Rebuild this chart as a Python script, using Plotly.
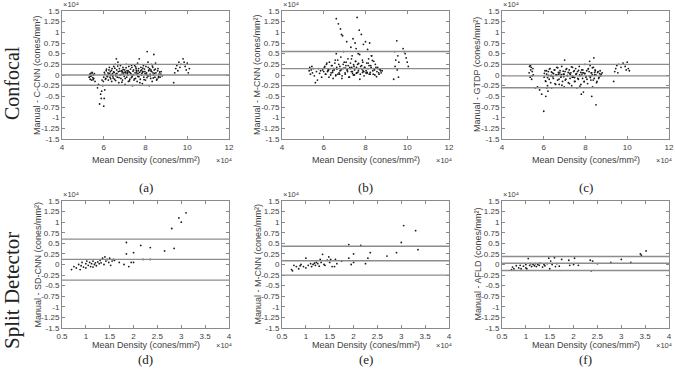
import plotly.graph_objects as go

# ---------------- data (units of 1e4 cones/mm^2) ----------------
a_x = [5.30,5.33,5.35,5.38,5.40,5.42,5.45,5.47,5.50,5.52,5.55,5.58,5.36,5.44,5.49,
       5.70,5.75,5.80,5.85,5.88,5.90,5.95,6.00,6.02,5.98,6.05,5.92,
       6.00,6.05,6.10,6.12,6.15,6.20,6.22,6.25,6.30,6.32,6.35,6.38,6.40,6.42,6.45,6.48,6.50,
       6.52,6.55,6.58,6.60,6.62,6.65,6.68,6.70,6.72,6.75,6.78,6.80,6.82,6.85,6.88,6.90,6.92,6.95,6.98,
       7.00,7.02,7.05,7.08,7.10,7.12,7.15,7.18,7.20,7.22,7.25,7.28,7.30,7.32,7.35,7.38,7.40,7.42,7.45,7.48,
       7.50,7.52,7.55,7.58,7.60,7.62,7.65,7.68,7.70,7.72,7.75,7.78,7.80,7.82,7.85,7.88,7.90,7.92,7.95,7.98,
       8.00,8.02,8.05,8.08,8.10,8.12,8.15,8.18,8.20,8.22,8.25,8.28,8.30,8.32,8.35,8.38,8.40,8.42,8.45,8.48,
       8.50,8.55,8.60,8.65,8.70,8.75,8.80,
       9.35,9.40,9.45,9.50,9.55,9.60,9.65,9.70,9.80,9.85,9.90,9.95,10.00,10.05,10.10,
       6.28,6.58,6.88,7.14,7.36,7.64,7.86,8.14,8.36,8.62,6.44,7.04,7.56,8.06,8.26]
a_y = [-0.05,0.02,-0.10,0.04,-0.02,-0.12,0.05,-0.06,0.00,-0.08,0.03,-0.15,-0.03,0.06,-0.11,
       -0.30,-0.22,-0.68,-0.45,-0.55,-0.38,-0.25,-0.73,-0.55,-0.15,-0.35,-0.12,
       -0.05,0.02,-0.08,0.10,-0.02,0.05,-0.12,0.12,-0.05,0.08,0.00,-0.15,0.15,0.03,-0.07,0.20,0.06,
       -0.10,0.25,0.02,0.38,0.12,-0.05,0.30,0.08,-0.18,0.15,0.00,0.22,-0.08,0.10,0.05,-0.12,0.18,0.02,-0.03,
       0.12,-0.22,0.05,0.25,-0.05,0.10,0.00,-0.15,0.20,0.07,-0.10,0.14,0.03,-0.06,0.18,-0.25,0.09,0.01,-0.12,0.22,
       0.05,-0.08,0.15,0.02,-0.15,0.28,0.10,-0.04,0.38,0.06,-0.10,0.18,0.00,0.12,-0.20,0.08,0.22,-0.05,0.14,0.03,
       -0.12,0.20,0.05,0.55,-0.02,0.30,0.10,-0.25,0.15,0.02,-0.08,0.25,0.08,-0.15,0.18,0.00,0.48,0.12,-0.05,0.28,
       0.05,-0.10,0.15,0.02,-0.05,0.08,-0.02,
       -0.18,0.05,0.15,0.22,0.10,0.30,0.18,0.25,0.38,0.30,0.20,0.12,0.28,0.05,0.15,
       0.04,-0.02,0.09,0.06,-0.04,0.04,0.07,-0.02,0.05,-0.06,-0.02,0.07,0.11,0.01,0.12]
a_lines = [0.25, 0.0, -0.24]

# extra images in the dense central band (shared mean-density positions)
band_x = [6.03,6.08,6.13,6.18,6.23,6.27,6.33,6.37,6.43,6.47,6.53,6.57,6.63,6.67,6.73,6.77,6.83,6.87,6.93,6.97,
          7.03,7.07,7.13,7.17,7.23,7.27,7.33,7.37,7.43,7.47,7.53,7.57,7.63,7.67,7.73,7.77,7.83,7.87,7.93,7.97,
          8.03,8.07,8.13,8.17,8.23,8.27,8.33,8.37,8.43,8.47,8.53,8.58,8.63,8.68,8.73]
a_band_y = [0.06,-0.10,0.14,-0.04,0.02,0.18,-0.09,0.11,-0.02,0.07,0.16,-0.13,0.04,0.21,-0.06,0.09,0.01,-0.17,0.13,0.06,
            -0.08,0.17,0.03,0.10,-0.14,0.05,0.23,-0.01,0.12,-0.09,0.19,0.07,-0.03,0.15,-0.18,0.10,0.04,0.16,-0.11,0.08,
            0.02,-0.06,0.18,0.12,-0.02,0.09,0.21,-0.07,0.04,0.14,-0.12,0.10,-0.03,0.07,0.02]

b_x = [6.60,6.70,6.80,6.85,6.90,7.60,7.70,7.80,7.10,7.40,7.50,7.90,8.00,8.20,7.30,7.55,8.10,6.95,7.65,8.30,6.60,
       5.30,5.33,5.36,5.40,5.43,5.46,5.50,5.55,5.60,5.65,5.70,5.75,5.80,5.85,5.90,5.95,
       6.00,6.05,6.10,6.15,6.20,6.25,6.30,6.35,6.40,6.45,6.50,6.55,6.62,6.68,6.72,6.78,6.82,6.88,6.92,6.98,
       7.02,7.06,7.12,7.16,7.20,7.25,7.28,7.32,7.36,7.42,7.45,7.48,7.52,7.58,7.62,7.68,7.72,7.75,7.82,7.85,7.88,7.95,
       8.02,8.06,8.12,8.15,8.22,8.25,8.28,8.35,8.40,8.45,8.50,8.55,8.60,8.65,8.70,8.75,8.80,
       9.35,9.40,9.42,9.45,9.50,9.52,9.55,9.60,9.58,9.80,9.90,9.95,10.00,10.05,9.85,
       6.42,6.76,7.04,7.38,7.66,7.92,8.18,8.42,6.22,7.14,7.56,8.08,6.58,7.34,7.86]
b_y = [1.32,1.20,1.08,0.95,0.92,1.35,1.05,0.95,0.78,0.85,0.75,0.72,0.78,0.75,0.65,0.62,0.60,0.55,0.50,0.45,0.50,
       0.10,0.18,0.02,0.12,0.20,0.05,0.15,-0.02,-0.18,0.08,-0.12,0.15,0.04,0.10,-0.05,0.12,
       0.08,0.20,0.02,0.28,0.10,-0.05,0.15,0.05,0.22,-0.08,0.12,0.35,0.18,0.02,0.25,0.10,0.42,-0.02,0.15,0.30,
       0.05,0.22,0.12,0.38,-0.05,0.18,0.28,0.08,0.45,0.00,0.20,0.12,0.32,0.05,0.25,0.15,0.48,0.02,0.22,0.35,0.10,0.18,
       0.05,0.28,0.15,0.38,0.02,0.22,0.45,0.10,0.32,0.00,0.18,0.08,0.15,0.02,0.12,0.05,0.10,
       -0.10,0.55,0.20,0.35,0.80,0.12,0.45,0.30,-0.05,0.62,0.50,0.40,0.30,0.20,0.55,
       0.06,0.02,0.16,0.04,0.10,0.08,0.02,0.14,0.12,0.08,0.04,0.06,0.00,0.18,0.06]
b_band_y = [0.18,0.02,0.25,0.08,0.12,0.30,0.00,0.22,0.10,0.15,0.28,-0.02,0.14,0.35,0.05,0.20,0.12,-0.08,0.25,0.16,
            0.02,0.30,0.12,0.22,-0.05,0.15,0.38,0.08,0.24,0.00,0.32,0.18,0.06,0.27,-0.10,0.20,0.14,0.30,-0.02,0.18,
            0.10,0.04,0.28,0.22,0.06,0.18,0.34,0.02,0.12,0.25,-0.04,0.18,0.05,0.14,0.10]
b_lines = [0.55, 0.15, -0.25]

c_x = [5.30,5.32,5.35,5.38,5.40,5.42,5.45,5.48,5.50,5.36,5.44,
       6.00,5.60,5.70,5.80,5.90,6.10,6.20,6.15,7.80,7.90,8.50,8.30,8.40,7.00,8.20,
       6.02,6.06,6.10,6.14,6.18,6.22,6.26,6.30,6.34,6.38,6.42,6.46,6.50,6.54,6.58,6.62,6.66,6.70,6.74,6.78,
       6.82,6.86,6.90,6.94,6.98,7.02,7.06,7.10,7.14,7.18,7.22,7.26,7.30,7.34,7.38,7.42,7.46,7.50,7.54,7.58,
       7.62,7.66,7.70,7.74,7.78,7.82,7.86,7.90,7.94,7.98,8.02,8.06,8.10,8.14,8.18,8.22,8.26,8.30,8.34,8.38,
       8.42,8.46,8.50,8.55,8.60,8.65,8.70,8.75,8.80,
       9.35,9.40,9.45,9.50,9.55,9.60,9.70,9.80,9.90,9.95,10.00,10.05,10.10,
       6.72,6.96,7.24,7.48,7.72,7.96,8.24,8.44,6.36,6.84,7.36,7.84,8.32]
c_y = [0.05,0.20,-0.05,0.12,0.18,-0.10,0.08,0.15,0.00,0.22,-0.02,
       -0.85,-0.30,-0.28,-0.35,-0.45,-0.50,-0.38,-0.30,-0.45,-0.40,-0.70,-0.50,0.40,0.35,0.32,
       -0.05,0.10,-0.15,0.02,-0.25,0.08,-0.10,0.15,-0.02,-0.30,0.05,-0.08,0.12,-0.20,0.00,0.18,-0.12,0.06,-0.22,0.10,
       -0.05,0.20,-0.15,0.02,-0.28,0.08,-0.10,0.15,-0.02,-0.18,0.12,-0.08,0.05,-0.25,0.18,-0.05,0.10,-0.15,0.02,-0.30,
       0.08,-0.10,0.20,-0.02,-0.22,0.12,-0.08,0.05,-0.15,0.25,-0.05,0.10,-0.20,0.15,-0.02,0.22,-0.12,0.05,-0.28,0.18,
       -0.08,0.12,0.00,-0.15,0.08,-0.05,0.10,0.02,0.05,
       -0.15,0.08,0.15,0.22,0.05,0.25,0.18,0.28,0.20,0.12,0.30,0.15,0.10,
       0.02,-0.04,0.04,-0.06,0.00,0.03,-0.03,0.06,-0.01,0.01,-0.02,0.05,0.00]
c_band_y = [0.04,-0.14,0.10,-0.06,-0.01,0.14,-0.18,0.07,-0.04,0.03,0.12,-0.22,0.00,0.17,-0.10,0.05,-0.03,-0.24,0.09,0.02,
            -0.12,0.13,-0.01,0.06,-0.20,0.01,0.19,-0.05,0.08,-0.15,0.15,0.03,-0.08,0.11,-0.26,0.06,0.00,0.12,-0.16,0.04,
            -0.02,-0.10,0.14,0.08,-0.06,0.05,0.17,-0.12,0.00,0.10,-0.18,0.06,-0.08,0.03,-0.02]
c_lines = [0.25, -0.02, -0.30]

d_x = [0.70,0.75,0.80,0.85,0.88,0.90,0.95,1.00,1.00,1.05,1.08,1.10,1.12,1.15,1.18,1.20,1.22,1.25,1.28,1.30,
       1.32,1.35,1.38,1.40,1.42,1.45,1.48,1.50,1.52,1.55,1.58,0.92,1.02,1.15,
       1.60,1.70,1.80,1.85,1.85,1.90,2.00,2.00,2.15,2.20,2.35,2.35,2.65,2.85,2.80,2.95,3.00,3.10,1.95]
d_y = [-0.12,-0.05,-0.08,0.00,-0.12,-0.03,-0.06,0.02,-0.08,-0.02,0.05,-0.05,0.02,0.08,0.00,0.04,-0.03,0.06,0.02,0.10,
       0.04,0.15,0.00,0.18,0.08,0.12,0.05,0.15,-0.02,0.08,0.12,0.05,0.08,-0.06,
       0.10,0.05,0.00,0.52,0.25,-0.05,0.28,0.05,0.45,0.12,0.40,0.12,0.32,0.38,0.85,1.10,1.00,1.22,0.05]
d_lines = [0.60, 0.12, -0.37]

e_x = [0.70,0.72,0.75,0.80,0.85,0.88,0.90,0.95,1.00,1.00,1.05,1.10,1.12,1.15,1.18,1.20,1.22,1.25,1.28,1.30,
       1.32,1.35,1.38,1.40,1.45,1.48,1.50,1.52,1.55,1.60,1.62,1.65,1.75,1.90,1.90,1.95,2.00,2.00,2.15,2.25,
       2.30,2.35,2.70,2.90,3.00,3.05,3.30,3.35]
e_y = [-0.12,-0.15,-0.02,-0.05,-0.10,-0.03,0.00,-0.05,0.15,-0.08,-0.02,0.02,-0.05,0.00,0.03,-0.02,0.05,0.02,-0.04,0.12,
       0.05,0.24,0.00,-0.02,0.10,0.18,0.05,0.12,-0.05,-0.05,0.12,0.02,0.08,0.47,0.15,0.00,0.25,0.05,0.45,0.02,
       0.15,0.28,0.20,0.28,0.52,0.92,0.80,0.35]
e_lines = [0.43, 0.09, -0.25]

f_x = [0.70,0.72,0.75,0.80,0.85,0.88,0.90,0.95,1.00,1.00,1.02,1.05,1.08,1.10,1.12,1.15,1.18,1.20,1.22,1.25,
       1.28,1.30,1.35,1.38,1.40,1.45,1.48,1.50,1.52,1.55,1.60,1.62,1.65,1.70,1.75,1.90,1.92,2.00,2.02,2.10,
       2.35,2.37,2.40,2.50,2.78,3.00,3.20,3.40,3.42,3.52]
f_y = [-0.12,-0.06,-0.10,-0.03,-0.08,-0.02,-0.10,-0.04,-0.08,0.00,-0.10,0.14,-0.02,0.02,-0.05,0.00,-0.03,0.02,-0.05,0.00,
       -0.02,0.03,-0.06,0.00,-0.03,0.02,0.15,-0.10,0.08,0.00,0.16,-0.05,0.02,-0.04,0.12,0.10,-0.02,0.00,0.15,-0.02,
       0.10,-0.15,0.08,0.02,0.05,0.12,0.05,0.25,0.22,0.32]
f_lines = [0.19, 0.03, -0.14]

x_title = "Mean Density (cones/mm\u00b2)"
y_titles = ["Manual - C-CNN (cones/mm\u00b2)", "Manual - M-CNN (cones/mm\u00b2)",
            "Manual - GTDP (cones/mm\u00b2)", "Manual - SD-CNN (cones/mm\u00b2)",
            "Manual - M-CNN (cones/mm\u00b2)", "Manual - AFLD (cones/mm\u00b2)"]
multiplier = "\u00d710\u2074"
panel_labels = ["(a)", "(b)", "(c)", "(d)", "(e)", "(f)"]
row_labels = ["Confocal", "Split Detector"]

y_ticks = [1.5,1.25,1,0.75,0.5,0.25,0,-0.25,-0.5,-0.75,-1,-1.25,-1.5]
y_ticktext = ["1.5","1.25","1","0.75","0.5","0.25","0","-0.25","-0.5","-0.75","-1","-1.25","-1.5"]
x_ticks_top = [4,6,8,10,12]
x_ticks_bot = [0.5,1,1.5,2,2.5,3,3.5,4]
x_ticktext_bot = ["0.5","1","1.5","2","2.5","3","3.5","4"]

# ---------------- layout geometry ----------------
W, H = 675, 373
cols = [(62, 229), (282, 449), (502, 669)]
rows = [(11, 139), (201, 328)]
title_off = [21, 17]      # px below axis for x title
mult_off = [21, 17]       # px below axis for x10^4 multiplier
label_y = [187, 359]      # panel label centre

panels = [(a_x + band_x, a_y + a_band_y, a_lines), (b_x + band_x, b_y + b_band_y, b_lines),
          (c_x + band_x, c_y + c_band_y, c_lines),
          (d_x, d_y, d_lines), (e_x, e_y, e_lines), (f_x, f_y, f_lines)]

fig = go.Figure()
AX = "#8a8a8a"
TXT = "#404040"
SANS = "Liberation Sans, Arial, sans-serif"
SERIF = "Liberation Serif, Times New Roman, serif"
tickfont = dict(family=SANS, size=8, color=TXT)
annotations = []

def px2x(v):
    return v / W

def px2y(v):
    return 1 - v / H

for i, (px, py, lines) in enumerate(panels):
    r, c = divmod(i, 3)
    n = i + 1
    xa = "x" if n == 1 else f"x{n}"
    ya = "y" if n == 1 else f"y{n}"
    x0, x1 = cols[c]
    yt, yb = rows[r]
    top = r == 0
    xr = [4, 12] if top else [0.5, 4]
    fig.add_trace(go.Scatter(x=px, y=py, mode="markers", xaxis=xa, yaxis=ya,
                             marker=dict(size=1.8, color="#1a1a1a"), showlegend=False,
                             hoverinfo="skip"))
    for v in lines:
        fig.add_trace(go.Scatter(x=xr, y=[v, v], mode="lines", xaxis=xa, yaxis=ya,
                                 line=dict(color="#8c8c8c", width=1.4), showlegend=False,
                                 hoverinfo="skip"))
    xkey = "xaxis" if n == 1 else f"xaxis{n}"
    ykey = "yaxis" if n == 1 else f"yaxis{n}"
    fig.layout[xkey] = dict(domain=[px2x(x0), px2x(x1)], range=xr, anchor=ya, showgrid=False, zeroline=False,
                            showline=True, linecolor=AX, linewidth=1, mirror="ticks", automargin=False,
                            ticks="inside", ticklen=3, tickcolor=AX,
                            tickvals=x_ticks_top if top else x_ticks_bot,
                            ticktext=[str(v) for v in x_ticks_top] if top else x_ticktext_bot,
                            tickfont=tickfont)
    fig.layout[ykey] = dict(domain=[px2y(yb), px2y(yt)], range=[-1.5, 1.5], anchor=xa, showgrid=False, zeroline=False,
                            showline=True, linecolor=AX, linewidth=1, mirror="ticks", automargin=False,
                            ticks="inside", ticklen=3, tickcolor=AX,
                            tickvals=y_ticks, ticktext=y_ticktext, tickfont=tickfont)
    # axis titles
    annotations.append(dict(text=x_title, x=px2x((x0 + x1) / 2), y=px2y(yb + title_off[r]), xref="paper", yref="paper",
                            xanchor="center", yanchor="middle", showarrow=False,
                            font=dict(family=SANS, size=9, color=TXT)))
    annotations.append(dict(text=y_titles[i], x=px2x(x0 - 25), y=px2y((yt + yb) / 2), xref="paper", yref="paper",
                            xanchor="center", yanchor="middle", showarrow=False, textangle=-90,
                            font=dict(family=SANS, size=9, color=TXT)))
    # x10^4 multipliers
    annotations.append(dict(text=multiplier, x=px2x(x0), y=px2y(yt - 1), xref="paper", yref="paper",
                            xanchor="left", yanchor="bottom", showarrow=False, borderpad=0,
                            font=dict(family=SANS, size=7.5, color=TXT)))
    annotations.append(dict(text=multiplier, x=px2x(x1 + 4), y=px2y(yb + mult_off[r]),
                            xref="paper", yref="paper", borderpad=0,
                            xanchor="right", yanchor="middle", showarrow=False,
                            font=dict(family=SANS, size=7.5, color=TXT)))
    # panel label
    annotations.append(dict(text=panel_labels[i], x=px2x((x0 + x1) / 2),
                            y=px2y(label_y[r]), xref="paper", yref="paper",
                            xanchor="center", yanchor="middle", showarrow=False,
                            font=dict(family=SERIF, size=13, color="#222222")))

annotations.append(dict(text=row_labels[0], x=px2x(12), y=px2y(83), xref="paper", yref="paper",
                        textangle=-90, xanchor="center", yanchor="middle", showarrow=False,
                        font=dict(family=SERIF, size=20, color="#222222")))
annotations.append(dict(text=row_labels[1], x=px2x(12), y=px2y(291), xref="paper", yref="paper",
                        textangle=-90, xanchor="center", yanchor="middle", showarrow=False,
                        font=dict(family=SERIF, size=21, color="#222222")))

fig.update_layout(width=W, height=H, margin=dict(l=0, r=0, t=0, b=0, autoexpand=False),
                  paper_bgcolor="white", plot_bgcolor="white", hovermode=False,
                  annotations=annotations)
fig.write_html("out.html", config={"displayModeBar": False, "staticPlot": True},
               post_script="document.body.style.margin='0';document.body.style.overflow='hidden';")
